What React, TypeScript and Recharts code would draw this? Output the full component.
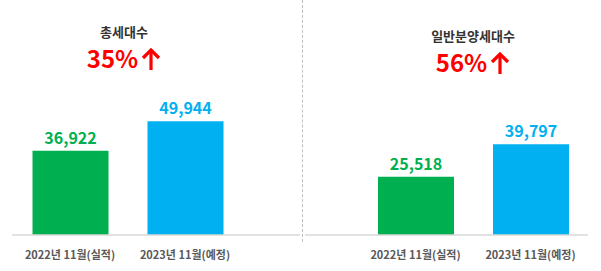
import React from "react";
import { BarChart, Bar, XAxis, YAxis, Cell, LabelList } from "recharts";

const categories = ["2022년 11월(실적)", "2023년 11월(예정)"];
const totalHouseholds = [36922, 49944];
const generalSaleHouseholds = [25518, 39797];
const barColors = ["#00B050", "#00B0F0"];
const panelTitles = ["총세대수", "일반분양세대수"];
const panelGrowth = ["35%", "56%"];

const FONT = "'Noto Sans CJK KR', 'Noto Sans', sans-serif";

const toRows = (values: number[]) =>
  categories.map((name, i) => ({ name, value: values[i] }));

type PanelProps = {
  values: number[];
  left: number;
  width: number;
  margin: { top: number; right: number; bottom: number; left: number };
  padding: { left: number; right: number };
  title: string;
  growth: string;
  titleCenter: number;
  titleY: number;
  growthY: number;
};

const fmt = (v: any) => Number(v).toLocaleString("en-US");

function UpArrow() {
  return (
    <svg width={20} height={23} viewBox="0 0 20 23" style={{ marginLeft: 3, verticalAlign: "-3px" }}>
      <path d="M10 22 L10 3" stroke="#FF0000" strokeWidth={3.2} fill="none" />
      <path d="M2 10 L10 2 L18 10" stroke="#FF0000" strokeWidth={3.2} fill="none" strokeLinejoin="miter" />
    </svg>
  );
}

function Panel(p: PanelProps) {
  const data = toRows(p.values);
  return (
    <div style={{ position: "absolute", left: p.left, top: 0, width: p.width, height: 271 }}>
      <div
        style={{
          position: "absolute",
          left: p.titleCenter - 100,
          width: 200,
          top: p.titleY,
          textAlign: "center",
          fontFamily: FONT,
          fontWeight: 700,
          fontSize: 13,
          color: "#333333",
          lineHeight: "16px",
        }}
      >
        {p.title}
      </div>
      <div
        style={{
          position: "absolute",
          left: p.titleCenter - 100,
          width: 200,
          top: p.growthY,
          textAlign: "center",
          fontFamily: FONT,
          fontWeight: 700,
          fontSize: 24,
          color: "#FF0000",
          lineHeight: "28px",
        }}
      >
        {p.growth}
        <UpArrow />
      </div>
      <BarChart width={p.width} height={271} data={data} margin={p.margin}>
        <YAxis hide domain={[0, 50000]} />
        <XAxis
          dataKey="name"
          height={30}
          padding={p.padding}
          tickLine={false}
          tickMargin={10}
          axisLine={{ stroke: "#D9D9D9", strokeWidth: 1.5 }}
          tick={{ fontFamily: FONT, fontSize: 11, fontWeight: 700, fill: "#595959" }}
          interval={0}
        />
        <Bar dataKey="value" barSize={76} isAnimationActive={false}>
          {data.map((_, i) => (
            <Cell key={i} fill={barColors[i]} />
          ))}
          <LabelList
            dataKey="value"
            position="top"
            content={(props: any) => {
              const { x, y, width, value, index } = props;
              return (
                <text
                  x={x + width / 2}
                  y={y - 7}
                  textAnchor="middle"
                  fontFamily={FONT}
                  fontWeight={700}
                  fontSize={16}
                  fill={barColors[index]}
                >
                  {fmt(value)}
                </text>
              );
            }}
          />
        </Bar>
      </BarChart>
    </div>
  );
}

export default function App() {
  return (
    <div style={{ position: "fixed", left: 0, top: 0, width: 601, height: 271, background: "#fff" }}>
      <Panel
        values={totalHouseholds}
        left={0}
        width={300}
        margin={{ top: 121, right: 0, bottom: 6, left: 12 }}
        padding={{ left: 0.5, right: 57.5 }}
        title={panelTitles[0]}
        growth={panelGrowth[0]}
        titleCenter={124}
        titleY={24}
        growthY={44}
      />
      <div
        style={{
          position: "absolute",
          left: 302,
          top: 0,
          height: 242,
          borderLeft: "1px dashed #BFBFBF",
        }}
      />
      <Panel
        values={generalSaleHouseholds}
        left={300}
        width={301}
        margin={{ top: 121, right: 13, bottom: 6, left: 5 }}
        padding={{ left: 53, right: 0 }}
        title={panelTitles[1]}
        growth={panelGrowth[1]}
        titleCenter={173}
        titleY={28}
        growthY={48}
      />
    </div>
  );
}
